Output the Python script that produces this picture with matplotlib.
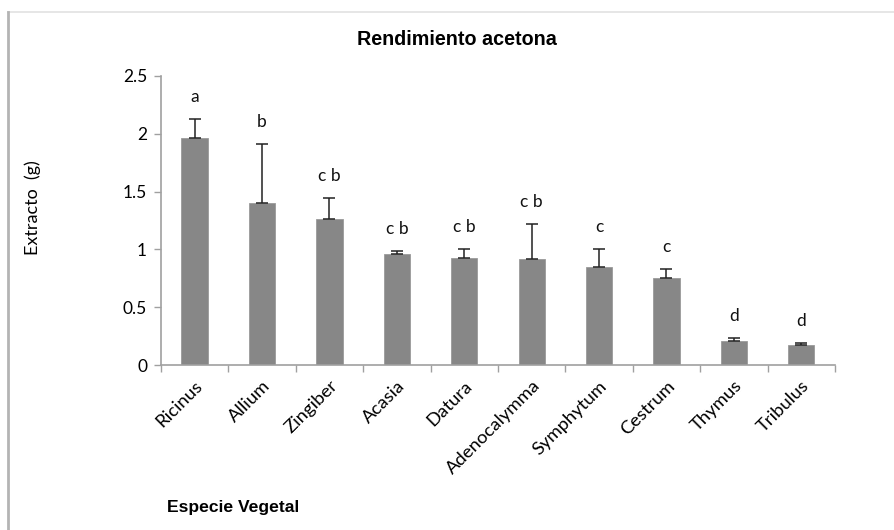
import matplotlib
matplotlib.use("Agg")
import matplotlib.pyplot as plt
import numpy as np
from matplotlib.lines import Line2D

# data
especies = ["Ricinus", "Allium", "Zingiber", "Acasia", "Datura",
            "Adenocalymma", "Symphytum", "Cestrum", "Thymus", "Tribulus"]
extracto = [1.965, 1.40, 1.26, 0.957, 0.925, 0.913, 0.85, 0.755, 0.207, 0.175]
error_sup = [0.165, 0.515, 0.18, 0.028, 0.075, 0.307, 0.155, 0.075, 0.029, 0.015]
letras = ["a", "b", "c b", "c b", "c b", "c b", "c", "c", "d", "d"]

fig = plt.figure(figsize=(8.94, 5.30), dpi=100)
ax = fig.add_axes([0.180, 0.311, 0.754, 0.546])

# outer frame of the chart area (light top edge, darker left edge)
fig.add_artist(Line2D([0.009, 1.0], [0.978, 0.978], transform=fig.transFigure,
                      color="#e2e2e2", linewidth=1.2))
fig.add_artist(Line2D([0.009, 0.009], [0.0, 0.978], transform=fig.transFigure,
                      color="#b4b4b4", linewidth=2.0))

x = np.arange(len(especies))
ax.bar(x, extracto, width=0.39, color="#878787", edgecolor="#9a9a9a", linewidth=0.6, zorder=2)
ax.errorbar(x, extracto, yerr=[np.zeros(len(x)), error_sup], fmt="none",
            ecolor="#222222", elinewidth=1.1, capsize=4, capthick=1.1, zorder=3)

for xi, v, e, txt in zip(x, extracto, error_sup, letras):
    ax.text(xi, v + e + 0.19, txt, ha="center", va="center",
            fontsize=12.5, family="Lato", color="#111111")

ax.set_xlim(-0.5, len(especies) - 0.5)
ax.set_ylim(0, 2.5)
ax.set_yticks([0, 0.5, 1, 1.5, 2, 2.5])
ax.set_yticklabels(["0", "0.5", "1", "1.5", "2", "2.5"], family="Lato", fontsize=12.5)

ax.set_xticks(x)
ax.set_xticklabels(especies, rotation=45, ha="right", rotation_mode="anchor",
                   family="Lato", fontsize=13.3)
ax.set_xticks(np.arange(len(especies) + 1) - 0.5, minor=True)
ax.tick_params(axis="x", which="major", length=0, pad=9)
ax.tick_params(axis="x", which="minor", length=5, color="#a0a0a0", width=1)
ax.tick_params(axis="y", length=5, color="#a0a0a0", width=1, pad=5)

for s in ["top", "right"]:
    ax.spines[s].set_visible(False)
for s in ["left", "bottom"]:
    ax.spines[s].set_color("#a0a0a0")
    ax.spines[s].set_linewidth(1.2)

fig.text(0.511, 0.926, "Rendimiento acetona", ha="center", va="center",
         fontsize=14.2, fontweight="bold", family="Liberation Sans")
fig.text(0.037, 0.609, "Extracto  (g)", rotation=90, ha="center", va="center",
         fontsize=13, family="Lato")
fig.text(0.187, 0.042, "Especie Vegetal", ha="left", va="center",
         fontsize=12.6, fontweight="bold", family="Liberation Sans")

fig.savefig("out.png", dpi=100)
